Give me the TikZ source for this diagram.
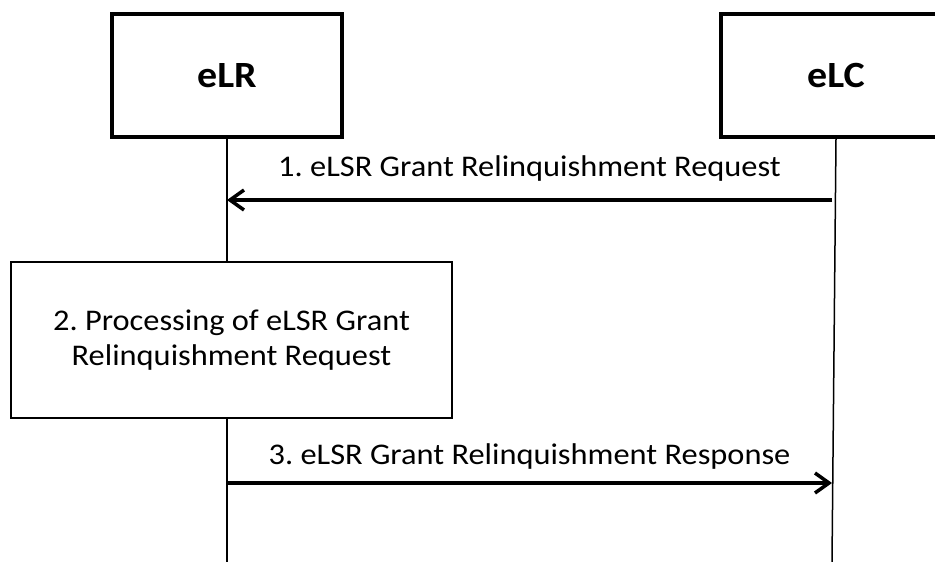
\documentclass[tikz,border=0pt]{standalone}
\usepackage{fontspec}
\setmainfont[FakeStretch=1.08]{Carlito}
\usetikzlibrary{positioning}
\usetikzlibrary{arrows.meta}
\frenchspacing

\begin{document}
\begin{tikzpicture}[
                x=1pt, y=-1pt,
                entity/.style = {
                    draw,
                    fill = white,
                    line width = 4pt,
                    minimum width = 230pt,
                    minimum height = 123pt,
                    font = \fontsize{37}{44}\selectfont\bfseries
                },
                process/.style = {
                    draw,
                    fill = white,
                    line width = 1.5pt,
                    minimum width = 441pt,
                    minimum height = 156pt,
                    align = center,
                    font = \fontsize{30}{35}\selectfont
                },
                lifeline/.style = {line width = 1.5pt},
                message/.style = {
                    line width = 3.5pt,
                    -{Straight Barb[length=14pt, width=20pt, line width=3.5pt]}
                },
                msglabel/.style = {font = \fontsize{30}{36}\selectfont, inner sep = 0pt}
            ]
            \useasboundingbox (0,0) rectangle (935,562);
            \node[entity] (elr) at (227,75.5) {eLR};
            \node[entity, right=375pt of elr] (elc) {eLC};
            % 
            \coordinate (elr end) at (227,562);
            \coordinate (elc end) at (832,562);
            \draw[lifeline] (elr.south) -- (elr end);
            \draw[lifeline] (elc.south) -- (elc end);
            % 
            \coordinate (elc1) at (832,200);
            \coordinate (elr1) at (227,200);
            \draw[message] (elc1) -- node[msglabel, above=17pt]{1. eLSR Grant Relinquishment Request} (elr1);
            % 
            \node[process] (proc) at (231.5,340) {2. Processing of eLSR Grant\\Relinquishment Request};
            % 
            \coordinate (elr3) at (227,483);
            \coordinate (elc3) at (832,483);
            \draw[message] (elr3) -- node[msglabel, above=12pt]{3. eLSR Grant Relinquishment Response} (elc3);
            % 
        \end{tikzpicture}
\end{document}
